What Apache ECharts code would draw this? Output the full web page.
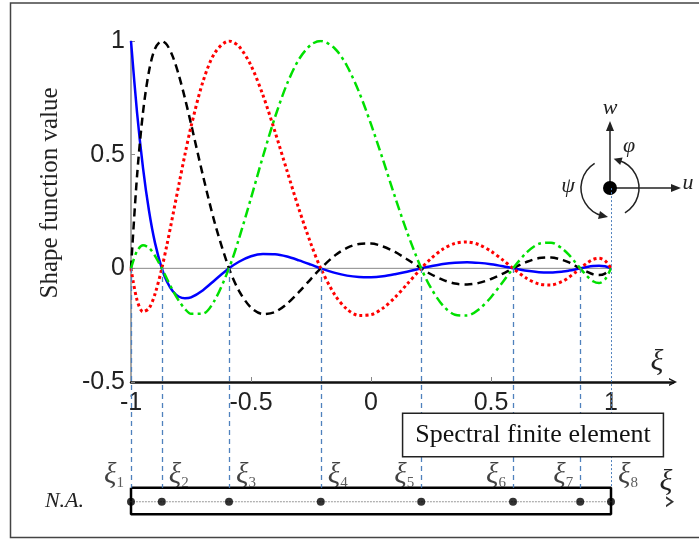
<!DOCTYPE html>
<html>
<head>
<meta charset="utf-8">
<script src="https://cdn.jsdelivr.net/npm/echarts@6/dist/echarts.min.js"></script>
<style>
  html, body { margin: 0; padding: 0; background: #fff; }
  #chart { width: 699px; height: 540px; }
</style>
</head>
<body>
<div id="chart"></div>
<script>
// sample positions along the element (xi) and the four shape functions
var xi = [-1, -0.975, -0.95, -0.925, -0.9, -0.8717, -0.85, -0.825, -0.8, -0.775, -0.75, -0.7, -0.65, -0.5917,
  -0.55, -0.5, -0.45, -0.4, -0.35, -0.3, -0.25, -0.2093, -0.15, -0.1, -0.05, 0, 0.05, 0.1, 0.15, 0.2093,
  0.25, 0.3, 0.35, 0.4, 0.45, 0.5, 0.55, 0.5917, 0.65, 0.7, 0.75, 0.8, 0.825, 0.85, 0.8717,
  0.9, 0.925, 0.95, 0.975, 1]
var nBlue = [1, 0.687, 0.442, 0.253, 0.112, 0, -0.059, -0.102, -0.125, -0.132, -0.128, -0.096, -0.051, 0,
  0.029, 0.053, 0.063, 0.062, 0.052, 0.035, 0.016, 0, -0.020, -0.032, -0.038, -0.039, -0.035, -0.026, -0.015, 0,
  0.009, 0.019, 0.025, 0.027, 0.024, 0.018, 0.009, 0, -0.011, -0.017, -0.018, -0.014, -0.010, -0.005, 0,
  0.006, 0.010, 0.011, 0.009, 0]
var nBlack = [0, 0.404, 0.686, 0.867, 0.966, 1, 0.983, 0.929, 0.847, 0.747, 0.636, 0.407, 0.196, 0,
  -0.099, -0.173, -0.201, -0.192, -0.156, -0.104, -0.046, 0, 0.057, 0.090, 0.107, 0.109, 0.096, 0.072, 0.040, 0,
  -0.026, -0.051, -0.067, -0.071, -0.064, -0.047, -0.023, 0, 0.029, 0.045, 0.048, 0.036, 0.026, 0.012, 0,
  -0.015, -0.026, -0.029, -0.023, 0]
var nRed = [0, -0.139, -0.191, -0.176, -0.113, 0, 0.105, 0.237, 0.371, 0.502, 0.623, 0.822, 0.949, 1,
  0.976, 0.892, 0.761, 0.601, 0.429, 0.260, 0.107, 0, -0.118, -0.180, -0.207, -0.204, -0.175, -0.128, -0.070, 0,
  0.043, 0.085, 0.110, 0.116, 0.104, 0.075, 0.036, 0, -0.045, -0.069, -0.073, -0.056, -0.039, -0.019, 0,
  0.023, 0.039, 0.044, 0.034, 0]
var nGreen = [0, 0.076, 0.101, 0.090, 0.055, 0, -0.047, -0.099, -0.144, -0.179, -0.200, -0.199, -0.138, 0,
  0.131, 0.309, 0.493, 0.665, 0.811, 0.920, 0.984, 1, 0.966, 0.890, 0.776, 0.634, 0.477, 0.314, 0.160, 0,
  -0.087, -0.164, -0.204, -0.208, -0.180, -0.127, -0.059, 0, 0.071, 0.108, 0.113, 0.084, 0.059, 0.028, 0,
  -0.034, -0.057, -0.065, -0.049, 0]
// GLL nodes of the spectral element
var nodes = [-1, -0.8717, -0.5917, -0.2093, 0.2093, 0.5917, 0.8717, 1]
var xTicks = [-1, -0.5, 0, 0.5, 1]
var yTicks = [-0.5, 0, 0.5, 1]

// layout of the element strip (in the overlay grid's units)
var elemTop = -0.968, elemMid = -1.03, elemBot = -1.085
var labelSide = [-1, 1, 1, 1, -1, -1, -1, 1]
var chevron = 'path://M0,10 L5,0 L10,10 L8,10 L5,4 L2,10 Z'
var serif = '"Liberation Serif", "Times New Roman", serif'
var sans = '"Liberation Sans", Arial, sans-serif'

function pairs(ys) {
  return xi.map(function (x, i) { return [x, ys[i]] })
}

var chart = echarts.init(document.getElementById('chart'))

var nodeLines = nodes.map(function (x, i) {
  if (i === nodes.length - 1) {
    return [{ coord: [x, 0.352], lineStyle: { type: [2, 2], width: 1 } }, { coord: [x, elemTop] }]
  }
  return [{ coord: [x, 0] }, { coord: [x, elemTop] }]
})

chart.setOption({
  animation: false,
  grid: [
    { left: 131, right: 26, top: 41, bottom: 158 },
    { left: 131, right: 88, top: 41, bottom: 11 }
  ],
  xAxis: [{
    type: 'value',
    gridIndex: 0,
    min: -1,
    max: 1.2583,
    splitLine: { show: false },
    axisLine: {
      onZero: false,
      lineStyle: { color: '#111', width: 2.5 },
      symbol: ['none', chevron],
      symbolSize: [11, 8]
    },
    axisTick: { inside: true, length: 5, customValues: [-0.5, 0, 0.5], lineStyle: { color: '#888' } },
    axisLabel: { customValues: xTicks, fontSize: 25, fontFamily: sans, color: '#222', margin: 9 }
  }, {
    type: 'value',
    gridIndex: 1,
    min: -1,
    max: 1,
    show: false
  }],
  yAxis: [{
    type: 'value',
    gridIndex: 0,
    min: -0.5,
    max: 1,
    interval: 0.5,
    splitLine: { show: false },
    axisLine: { show: true, onZero: false, lineStyle: { color: '#888', width: 1.5 } },
    axisTick: { inside: true, length: 4, lineStyle: { color: '#888' } },
    axisLabel: { customValues: yTicks, fontSize: 25, fontFamily: sans, color: '#222', margin: 6 }
  }, {
    type: 'value',
    gridIndex: 1,
    min: -1.15,
    max: 1,
    show: false
  }],
  series: [
    {
      // zero reference line
      type: 'line', xAxisIndex: 0, yAxisIndex: 0, symbol: 'none', silent: true, z: 1,
      data: [[nodes[0], 0], [nodes[nodes.length - 1], 0]],
      lineStyle: { color: '#888', width: 1 }
    },
    {
      // element box + node guide lines
      type: 'line', xAxisIndex: 1, yAxisIndex: 1, symbol: 'none', silent: true, clip: false, z: 1,
      data: [[nodes[0], elemTop], [nodes[7], elemTop], [nodes[7], elemBot], [nodes[0], elemBot], [nodes[0], elemTop]],
      lineStyle: { color: '#000', width: 2.5 },
      markLine: {
        silent: true,
        symbol: ['none', 'none'],
        label: { show: false },
        lineStyle: { color: '#4f81bd', type: [5, 4], width: 1.3 },
        data: nodeLines
      }
    },
    {
      // N.A. axis
      type: 'line', xAxisIndex: 1, yAxisIndex: 1, silent: true, clip: false, z: 2,
      showSymbol: true,
      data: [
        { value: [-1.167, elemMid], symbol: 'none' },
        { value: [1.246, elemMid], symbol: chevron, symbolSize: [11, 8], symbolRotate: -90, itemStyle: { color: '#333' } }
      ],
      lineStyle: { color: '#999', width: 1, type: [2, 1] }
    },
    {
      type: 'scatter', xAxisIndex: 1, yAxisIndex: 1, silent: true, z: 5,
      symbolSize: 8,
      itemStyle: { color: '#000' },
      data: nodes.map(function (x, i) {
        return { value: [x, elemMid], label: { offset: [labelSide[i] * 17, -2] } }
      }),
      label: {
        show: true,
        position: 'top',
        distance: 5,
        formatter: function (p) { return '{g|ξ}{s|' + (p.dataIndex + 1) + '}' },
        rich: {
          g: { fontFamily: serif, fontStyle: 'italic', fontSize: 29, color: '#111', lineHeight: 30 },
          s: { fontFamily: serif, fontSize: 15, color: '#333', lineHeight: 12, verticalAlign: 'bottom' }
        }
      }
    },
    {
      type: 'line', xAxisIndex: 0, yAxisIndex: 0, symbol: 'none', smooth: 0.3, z: 4,
      data: pairs(nBlue), lineStyle: { color: '#0000ff', width: 2.5 }
    },
    {
      type: 'line', xAxisIndex: 0, yAxisIndex: 0, symbol: 'none', smooth: 0.3, z: 4,
      data: pairs(nBlack), lineStyle: { color: '#000', width: 2.5, type: [8, 5] }
    },
    {
      type: 'line', xAxisIndex: 0, yAxisIndex: 0, symbol: 'none', smooth: 0.3, z: 4,
      data: pairs(nRed), lineStyle: { color: '#ff0000', width: 3, type: [3, 3] }
    },
    {
      type: 'line', xAxisIndex: 0, yAxisIndex: 0, symbol: 'none', smooth: 0.3, z: 4,
      data: pairs(nGreen), lineStyle: { color: '#00e000', width: 2.5, type: [10, 4, 3, 4] }
    }
  ],
  graphic: [
    { type: 'rect', silent: true, shape: { x: 10.5, y: 3, width: 700, height: 534.5 }, style: { fill: 'none', stroke: '#444', lineWidth: 1.5 } },
    { type: 'text', x: 50, y: 193, rotation: Math.PI / 2,
      style: { text: 'Shape function value', fontSize: 25, fontFamily: serif, fill: '#222', align: 'center', verticalAlign: 'middle' } },
    { type: 'text', x: 657, y: 362,
      style: { text: 'ξ', fontSize: 30, fontStyle: 'italic', fontFamily: serif, fill: '#222', align: 'center', verticalAlign: 'middle' } },
    { type: 'text', x: 666, y: 482,
      style: { text: 'ξ', fontSize: 30, fontStyle: 'italic', fontFamily: serif, fill: '#222', align: 'center', verticalAlign: 'middle' } },
    { type: 'text', x: 84, y: 501,
      style: { text: 'N.A.', fontSize: 22, fontStyle: 'italic', fontFamily: serif, fill: '#222', align: 'right', verticalAlign: 'middle' } },
    { type: 'text', x: 533, y: 435, z: 10,
      style: { text: 'Spectral finite element', fontSize: 26, fontFamily: serif, fill: '#111', align: 'center', verticalAlign: 'middle',
        backgroundColor: '#fff', borderColor: '#222', borderWidth: 1.5, padding: [6, 12], lineHeight: 30 } },
    // local coordinate icon
    { type: 'line', shape: { x1: 610, y1: 188, x2: 610, y2: 128 }, style: { stroke: '#222', lineWidth: 1.5 } },
    { type: 'polygon', shape: { points: [[610, 121], [606, 131], [614, 131]] }, style: { fill: '#222' } },
    { type: 'line', shape: { x1: 610, y1: 188, x2: 674, y2: 188 }, style: { stroke: '#222', lineWidth: 1.5 } },
    { type: 'polygon', shape: { points: [[681, 188], [671, 184], [671, 192]] }, style: { fill: '#222' } },
    { type: 'arc', shape: { cx: 610, cy: 188, r: 29, startAngle: 104 * Math.PI / 180, endAngle: 238 * Math.PI / 180, clockwise: true },
      style: { stroke: '#222', fill: 'none', lineWidth: 1.5 } },
    { type: 'polygon', shape: { points: [[608, 217], [598, 219], [600, 211]] }, style: { fill: '#222' } },
    { type: 'arc', shape: { cx: 610, cy: 188, r: 29, startAngle: -73 * Math.PI / 180, endAngle: 59 * Math.PI / 180, clockwise: true },
      style: { stroke: '#222', fill: 'none', lineWidth: 1.5 } },
    { type: 'polygon', shape: { points: [[613.7, 158.8], [622.6, 157.4], [620.2, 165]] }, style: { fill: '#222' } },
    { type: 'circle', shape: { cx: 610, cy: 188, r: 7 }, style: { fill: '#000' } },
    { type: 'text', x: 610, y: 108, style: { text: 'w', fontSize: 22, fontStyle: 'italic', fontFamily: serif, fill: '#222', align: 'center', verticalAlign: 'middle' } },
    { type: 'text', x: 688, y: 183, style: { text: 'u', fontSize: 22, fontStyle: 'italic', fontFamily: serif, fill: '#222', align: 'center', verticalAlign: 'middle' } },
    { type: 'text', x: 568, y: 186, style: { text: 'ψ', fontSize: 22, fontStyle: 'italic', fontFamily: serif, fill: '#222', align: 'center', verticalAlign: 'middle' } },
    { type: 'text', x: 629, y: 146, style: { text: 'φ', fontSize: 22, fontStyle: 'italic', fontFamily: serif, fill: '#222', align: 'center', verticalAlign: 'middle' } }
  ]
})
</script>
</body>
</html>
